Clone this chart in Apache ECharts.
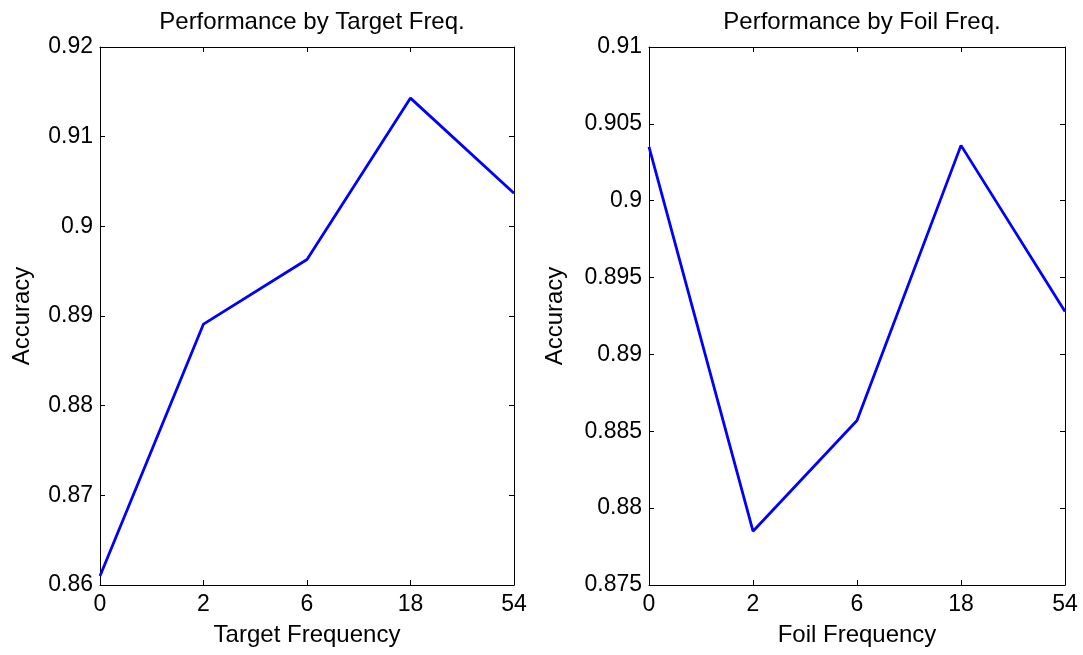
<!DOCTYPE html>
<html><head><meta charset="utf-8">
<script src="https://cdn.jsdelivr.net/npm/echarts@6/dist/echarts.min.js"></script>
<style>html,body{margin:0;padding:0;background:#fff}#c{width:1083px;height:655px}</style>
</head><body><div id="c"></div>
<script>
const categories = ['0', '2', '6', '18', '54'];
const targetAccuracy = [0.8610, 0.8891, 0.8963, 0.9143, 0.9037];
const foilAccuracy = [0.9035, 0.8785, 0.8857, 0.9036, 0.8928];
const titles = ['Performance by Target Freq.', 'Performance by Foil Freq.'];
const xNames = ['Target Frequency', 'Foil Frequency'];
const yRanges = [{min: 0.86, max: 0.92, interval: 0.01}, {min: 0.875, max: 0.91, interval: 0.005}];

const FONT = 'Liberation Sans, Arial, sans-serif';
const grids = [
  {left: 100, top: 47, width: 414, height: 538},
  {left: 649, top: 47, width: 416, height: 538}
];
const fmt = v => String(parseFloat(v.toFixed(4)));
const chart = echarts.init(document.getElementById('c'));
const xAxis = [], yAxis = [], series = [];
const axLine = {show: true, lineStyle: {color: '#000', width: 1}};
const tick = {show: true, inside: true, length: 5, lineStyle: {color: '#000'}};
grids.forEach((g, i) => {
  xAxis.push({gridIndex: i, type: 'category', data: categories, boundaryGap: false, position: 'bottom',
    name: xNames[i], nameLocation: 'middle', nameGap: 38,
    nameTextStyle: {fontFamily: FONT, fontSize: 24, color: '#000'},
    axisLine: axLine, axisTick: tick,
    axisLabel: {fontFamily: FONT, fontSize: 23, color: '#000', margin: 8}, splitLine: {show: false}});
  xAxis.push({gridIndex: i, type: 'category', data: categories, boundaryGap: false, position: 'top',
    axisLine: axLine, axisTick: tick, axisLabel: {show: false}, splitLine: {show: false}});
  const r = yRanges[i];
  yAxis.push({gridIndex: i, type: 'value', min: r.min, max: r.max, interval: r.interval, position: 'left',
    name: 'Accuracy', nameLocation: 'middle', nameGap: i === 0 ? 66 : 82, nameRotate: 90,
    nameTextStyle: {fontFamily: FONT, fontSize: 24, color: '#000'},
    axisLine: axLine, axisTick: tick,
    axisLabel: {fontFamily: FONT, fontSize: 23, color: '#000', margin: 7, formatter: fmt}, splitLine: {show: false}});
  yAxis.push({gridIndex: i, type: 'value', min: r.min, max: r.max, interval: r.interval, position: 'right',
    axisLine: axLine, axisTick: tick, axisLabel: {show: false}, splitLine: {show: false}});
});
series.push({type: 'line', xAxisIndex: 0, yAxisIndex: 0, data: targetAccuracy, showSymbol: false,
  lineStyle: {color: '#0000FF', width: 2.8}, animation: false});
series.push({type: 'line', xAxisIndex: 2, yAxisIndex: 2, data: foilAccuracy, showSymbol: false,
  lineStyle: {color: '#0000FF', width: 2.8}, animation: false});
chart.setOption({
  animation: false,
  backgroundColor: '#fff',
  title: titles.map((t, i) => ({text: t, left: grids[i].left + grids[i].width / 2, top: 5, textAlign: 'center',
    textStyle: {fontFamily: FONT, fontSize: 24, fontWeight: 'normal', color: '#000'}})),
  grid: grids,
  xAxis, yAxis, series
});
</script></body></html>
